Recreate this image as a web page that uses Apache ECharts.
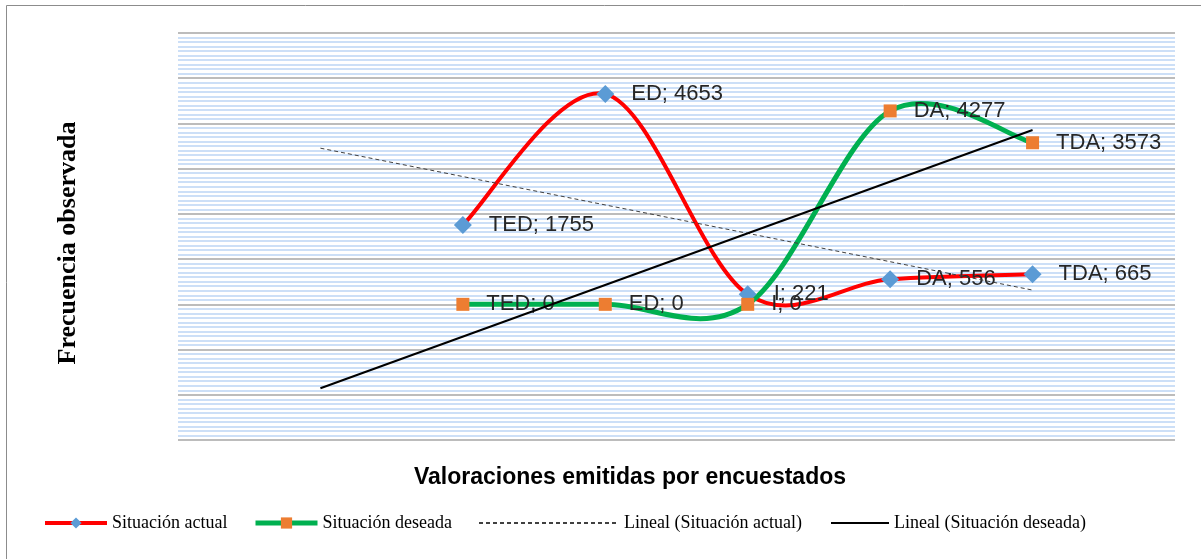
<!DOCTYPE html>
<html>
<head>
<meta charset="utf-8">
<script src="https://cdn.jsdelivr.net/npm/echarts@6/dist/echarts.min.js"></script>
<style>
  html, body { margin: 0; padding: 0; background: #fff; }
  #chart { width: 1201px; height: 559px; }
</style>
</head>
<body>
<div id="chart"></div>
<script>
// categories (first two and last slot are empty, like the Excel trendline forecast)
const categories = ['', '', 'TED', 'ED', 'I', 'DA', 'TDA', '']
const actual = [null, null, 1755, 4653, 221, 556, 665, null]
const desired = [null, null, 0, 0, 0, 4277, 3573, null]
// linear trendlines, endpoints
const trendActual = [null, 3453, null, null, null, null, 315, null]
const trendDesired = [null, -1857, null, null, null, null, 3855, null]

const myChart = echarts.init(document.getElementById('chart'))

const labelFont = {
  show: true,
  position: 'right',
  distance: 17,
  fontFamily: 'Liberation Sans',
  fontSize: 22,
  color: '#262626',
  formatter: p => p.name + '; ' + p.value
}

const legendText = {
  fontFamily: 'Liberation Serif',
  fontSize: 18,
  color: '#000'
}

function legendAt(item, left, width) {
  return {
    data: [item],
    left: left,
    top: 509,
    itemWidth: width,
    itemHeight: 14,
    textStyle: legendText
  }
}

// Excel-like smoothed curve: catmull-rom segments through the points, using the axis scales
function smoothCurve(values, color, width) {
  return function (params, api) {
    const i = params.dataIndex
    if (values[i] == null || values[i + 1] == null) return null
    const p1 = api.coord([i, values[i]])
    const p2 = api.coord([i + 1, values[i + 1]])
    const p0 = values[i - 1] != null ? api.coord([i - 1, values[i - 1]]) : p1
    const p3 = values[i + 2] != null ? api.coord([i + 2, values[i + 2]]) : p2
    return {
      type: 'bezierCurve',
      shape: {
        x1: p1[0], y1: p1[1],
        x2: p2[0], y2: p2[1],
        cpx1: p1[0] + (p2[0] - p0[0]) / 6,
        cpy1: p1[1] + (p2[1] - p0[1]) / 6,
        cpx2: p2[0] - (p3[0] - p1[0]) / 6,
        cpy2: p2[1] - (p3[1] - p1[1]) / 6
      },
      style: { stroke: color, lineWidth: width, fill: null, lineCap: 'round' }
    }
  }
}

const option = {
  backgroundColor: '#fff',
  animation: false,
  grid: { left: 178, right: 26, top: 33, bottom: 119 },
  legend: [
    legendAt({ name: 'Situación actual', lineStyle: { color: '#ff0000', width: 4, opacity: 1 } }, 38, 62),
    legendAt({ name: 'Situación deseada', lineStyle: { color: '#00b050', width: 5, opacity: 1 } }, 248, 62),
    legendAt({ name: 'Lineal (Situación actual)', itemStyle: { opacity: 0 } }, 473, 140),
    legendAt({ name: 'Lineal (Situación deseada)', itemStyle: { opacity: 0 } }, 825, 58)
  ],
  graphic: [
    {
      type: 'rect',
      shape: { x: 6.5, y: 5.5, width: 1400, height: 1000 },
      style: { fill: 'none', stroke: '#8c8c8c', lineWidth: 1 },
      silent: true
    },
    {
      type: 'text',
      x: 630, y: 478,
      style: {
        text: 'Valoraciones emitidas por encuestados',
        align: 'center', verticalAlign: 'middle',
        fontFamily: 'Liberation Sans', fontWeight: 'bold', fontSize: 23, fill: '#000'
      }
    },
    {
      type: 'text',
      x: 68, y: 243,
      rotation: Math.PI / 2,
      style: {
        text: 'Frecuencia observada',
        align: 'center', verticalAlign: 'middle',
        fontFamily: 'Liberation Serif', fontWeight: 'bold', fontSize: 26, fill: '#000'
      }
    }
  ],
  xAxis: {
    type: 'category',
    data: categories,
    boundaryGap: false,
    axisLine: { show: false },
    axisTick: { show: false },
    axisLabel: { show: false },
    splitLine: { show: false }
  },
  yAxis: {
    type: 'value',
    min: -3000,
    max: 6000,
    interval: 1000,
    axisLine: { show: false },
    axisTick: { show: false },
    axisLabel: { show: false },
    splitLine: { show: true, lineStyle: { color: '#a6a6a6', width: 1.5 } },
    minorTick: { show: false, splitNumber: 10 },
    minorSplitLine: { show: true, lineStyle: { color: '#bcd5f5', width: 1.5 } }
  },
  series: [
    {
      type: 'custom',
      renderItem: smoothCurve(actual, '#ff0000', 4),
      data: actual.map((v, i) => [i, v == null ? 0 : v]),
      silent: true,
      z: 2
    },
    {
      type: 'custom',
      renderItem: smoothCurve(desired, '#00b050', 5),
      data: desired.map((v, i) => [i, v == null ? 0 : v]),
      silent: true,
      z: 3
    },
    {
      name: 'Situación actual',
      type: 'line',
      data: actual,
      symbol: 'diamond',
      symbolSize: 18,
      lineStyle: { color: '#ff0000', width: 4, opacity: 0 },
      itemStyle: { color: '#5b9bd5', borderWidth: 0 },
      label: labelFont,
      z: 4
    },
    {
      name: 'Situación deseada',
      type: 'line',
      data: desired,
      symbol: 'rect',
      symbolSize: 13,
      lineStyle: { color: '#00b050', width: 5, opacity: 0 },
      itemStyle: { color: '#ed7d31', borderWidth: 0 },
      label: labelFont,
      z: 5
    },
    {
      name: 'Lineal (Situación actual)',
      type: 'line',
      data: trendActual,
      connectNulls: true,
      symbol: 'none',
      lineStyle: { color: '#404040', width: 1, type: [4, 3] },
      itemStyle: { color: '#404040' },
      z: 6
    },
    {
      name: 'Lineal (Situación deseada)',
      type: 'line',
      data: trendDesired,
      connectNulls: true,
      symbol: 'none',
      lineStyle: { color: '#000', width: 2 },
      itemStyle: { color: '#000' },
      z: 6
    }
  ]
}

option && myChart.setOption(option)
</script>
</body>
</html>
